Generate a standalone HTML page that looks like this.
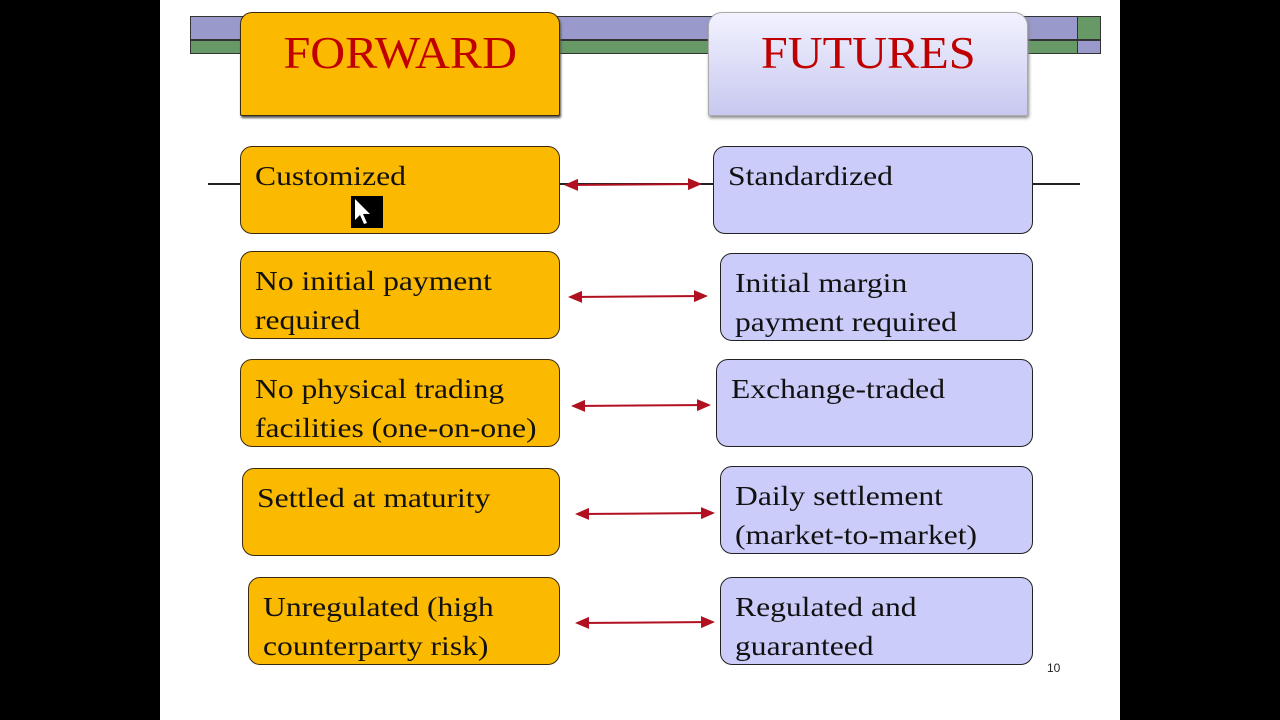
<!DOCTYPE html>
<html><head><meta charset="utf-8"><style>
body{margin:0;width:1280px;height:720px;background:#000;position:relative;overflow:hidden;font-family:"Liberation Serif",serif}
.slide{position:absolute;left:160px;top:0;width:960px;height:720px;background:#fff}
.a{position:absolute;box-sizing:border-box}
.f{background:#fbb900;border:1.5px solid #3a2a10;border-radius:12px}
.u{background:#ccccfa;border:1.5px solid #222;border-radius:12px}
.t{font-size:27px;color:#111;line-height:39px;padding:10px 0 0 14px;white-space:nowrap}
.t span{display:inline-block;transform:scaleX(1.17);transform-origin:left}
.h{font-size:46px;color:#c00000;text-align:center;padding-top:13px}
.h span{display:inline-block;transform:scaleX(1.05)}
</style></head><body>
<div class="slide"></div>
<div class="a" style="left:190px;top:16px;width:911px;height:24px;background:#9999cc;border:1px solid #333"></div>
<div class="a" style="left:190px;top:40px;width:911px;height:14px;background:#669966;border:1px solid #333"></div>
<div class="a" style="left:1077px;top:16px;width:24px;height:24px;background:#669966;border:1px solid #333"></div>
<div class="a" style="left:1077px;top:40px;width:24px;height:14px;background:#9999cc;border:1px solid #333"></div>
<div class="a" style="left:208px;top:183px;width:872px;height:2px;background:#222"></div>
<div class="a f h" style="left:240px;top:12px;width:320px;height:104px;border-radius:12px 12px 2px 2px;box-shadow:1px 2px 2px #555"><span>FORWARD</span></div>
<div class="a h" style="left:708px;top:12px;width:320px;height:104px;border-radius:14px 14px 2px 2px;background:linear-gradient(#f2f2ff,#c8c8f0);border:1px solid #aaa;box-shadow:1px 2px 3px #888"><span>FUTURES</span></div>

<div class="a f t" style="left:240px;top:146px;width:320px;height:88px"><span>Customized</span></div>
<div class="a" style="left:351px;top:196px;width:32px;height:32px;background:#000"><svg width="32" height="32"><path d="M4 3 L4 24 L9 19 L13 28 L16 27 L12 18 L19 18 Z" fill="#fff"/></svg></div>
<div class="a u t" style="left:713px;top:146px;width:320px;height:88px"><span>Standardized</span></div>

<div class="a f t" style="left:240px;top:251px;width:320px;height:88px"><span>No initial payment<br>required</span></div>
<div class="a u t" style="left:720px;top:253px;width:313px;height:88px"><span>Initial margin<br>payment required</span></div>

<div class="a f t" style="left:240px;top:359px;width:320px;height:88px"><span>No physical trading<br>facilities (one-on-one)</span></div>
<div class="a u t" style="left:716px;top:359px;width:317px;height:88px"><span>Exchange-traded</span></div>

<div class="a f t" style="left:242px;top:468px;width:318px;height:88px"><span>Settled at maturity</span></div>
<div class="a u t" style="left:720px;top:466px;width:313px;height:88px"><span>Daily settlement<br>(market-to-market)</span></div>

<div class="a f t" style="left:248px;top:577px;width:312px;height:88px"><span>Unregulated (high<br>counterparty risk)</span></div>
<div class="a u t" style="left:720px;top:577px;width:313px;height:88px"><span>Regulated and<br>guaranteed</span></div>

<svg class="a" style="left:0;top:0" width="1280" height="720">
<defs><marker id="m" markerWidth="8" markerHeight="8" refX="6" refY="4" orient="auto-start-reverse"><path d="M0,1 L7,4 L0,7 Z" fill="#b01020"/></marker></defs>
<g stroke="#b01020" stroke-width="2" marker-start="url(#m)" marker-end="url(#m)">
<line x1="566" y1="185" x2="700" y2="184"/>
<line x1="570" y1="297" x2="706" y2="296"/>
<line x1="573" y1="406" x2="709" y2="405"/>
<line x1="577" y1="514" x2="713" y2="513"/>
<line x1="577" y1="623" x2="713" y2="622"/>
</g></svg>
<div class="a" style="left:1047px;top:661px;font:12px 'Liberation Sans',sans-serif;color:#222">10</div>
</body></html>
